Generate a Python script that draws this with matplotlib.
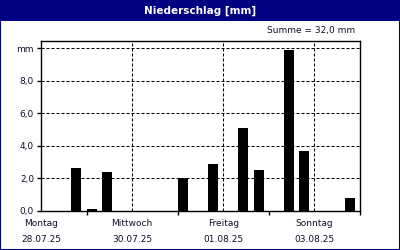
import matplotlib
matplotlib.use('Agg')
import matplotlib.pyplot as plt
from matplotlib.patches import Rectangle
from matplotlib.transforms import blended_transform_factory

# Niederschlag in 8-Stunden-Intervallen ab Montag 28.07.25 00:00
intervalle = [2, 3, 4, 9, 11, 13, 14, 16, 17, 20]
werte = [2.6, 0.1, 2.4, 2.0, 2.9, 5.1, 2.5, 9.9, 3.7, 0.8]
tage = ['Montag', 'Mittwoch', 'Freitag', 'Sonntag']
daten = ['28.07.25', '30.07.25', '01.08.25', '03.08.25']
tag_pos = [0, 2, 4, 6]
y_ticks = [0, 2, 4, 6, 8, 10]
y_labels = ['0,0', '2,0', '4,0', '6,0', '8,0', 'mm']
titel = 'Niederschlag [mm]'
summe = 'Summe = 32,0 mm'

navy = '#000080'
txt = '#10102a'
plt.rcParams['font.family'] = 'DejaVu Sans'

fig = plt.figure(figsize=(4, 2.5), dpi=100)
ax = fig.add_axes([41/400, 1 - 210.7/250, 319/400, 170/250])

x = [k / 3 for k in intervalle]
ax.bar(x, werte, width=0.219, align='edge', color='black')

ax.set_xlim(0, 7)
ax.set_ylim(0, 10.45)
ax.set_yticks(y_ticks)
ax.set_yticklabels(y_labels)
ax.set_xticks(tag_pos)
ax.set_xticklabels([])
ax.set_xticks([1, 3, 5, 7], minor=True)
ax.tick_params(axis='x', which='major', length=0)
ax.tick_params(axis='x', which='minor', length=3, width=1, color='black')
ax.tick_params(axis='y', length=3, width=1, pad=2, labelsize=6.5, labelcolor=txt)

strich = (0, (2.9, 1.9))
for y in y_ticks[1:]:
    ax.axhline(y, color='black', lw=0.75, ls=strich, zorder=0)
for d in tag_pos[1:]:
    ax.axvline(d, color='black', lw=0.75, ls=strich, zorder=0)

for s in ax.spines.values():
    s.set_linewidth(1)
    s.set_color('black')

tr = blended_transform_factory(ax.transData, fig.transFigure)
for d, t, dt in zip(tag_pos, tage, daten):
    ax.text(d, 1 - 223/250, t, transform=tr, ha='center', va='center',
            fontsize=6.5, color=txt)
    ax.text(d, 1 - 239/250, dt, transform=tr, ha='center', va='center',
            fontsize=6.5, color=txt)

# Kopfzeile und Rahmen
fig.patches.append(Rectangle((0, 1 - 20.5/250), 1, 20.5/250, transform=fig.transFigure,
                             facecolor=navy, edgecolor='none', zorder=0))
fig.patches.append(Rectangle((0, 0), 1, 1, transform=fig.transFigure,
                             facecolor='none', edgecolor=navy, lw=1.5, zorder=5))
fig.text(0.5, 1 - 10.5/250, titel, ha='center', va='center', color='white',
         fontsize=7.5, fontweight='bold')
fig.text(355/400, 1 - 31/250, summe, ha='right', va='center', color=txt, fontsize=6.5)

fig.savefig('out.png', dpi=100)
